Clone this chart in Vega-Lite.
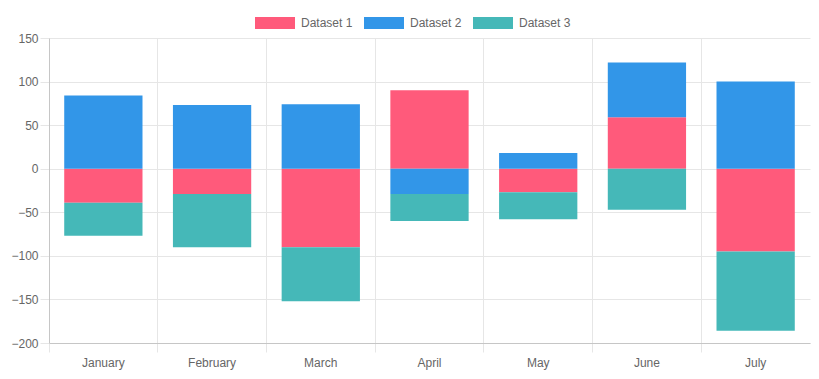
{
  "$schema": "https://vega.github.io/schema/vega-lite/v6.json",
  "width": 761,
  "height": 305,
  "autosize": {"type": "none"},
  "padding": {"left": 49, "top": 38, "right": 9, "bottom": 36},
  "background": "white",
  "config": {
    "view": {"stroke": null},
    "font": "Liberation Sans",
    "axis": {"labelFont": "Liberation Sans", "labelFontSize": 12, "labelColor": "#666666", "gridColor": "#e6e6e6", "tickColor": "#e6e6e6", "domainColor": "#c6c6c6", "titleFontSize": 12}
  },
  "data": {
    "values": [
      {"month": "January", "series": "Dataset 1", "value": -39},
      {"month": "January", "series": "Dataset 2", "value": 84},
      {"month": "January", "series": "Dataset 3", "value": -38},
      {"month": "February", "series": "Dataset 1", "value": -29},
      {"month": "February", "series": "Dataset 2", "value": 73},
      {"month": "February", "series": "Dataset 3", "value": -61},
      {"month": "March", "series": "Dataset 1", "value": -90},
      {"month": "March", "series": "Dataset 2", "value": 74},
      {"month": "March", "series": "Dataset 3", "value": -62},
      {"month": "April", "series": "Dataset 1", "value": 90},
      {"month": "April", "series": "Dataset 2", "value": -29},
      {"month": "April", "series": "Dataset 3", "value": -31},
      {"month": "May", "series": "Dataset 1", "value": -27},
      {"month": "May", "series": "Dataset 2", "value": 18},
      {"month": "May", "series": "Dataset 3", "value": -31},
      {"month": "June", "series": "Dataset 1", "value": 59},
      {"month": "June", "series": "Dataset 2", "value": 63},
      {"month": "June", "series": "Dataset 3", "value": -47},
      {"month": "July", "series": "Dataset 1", "value": -95},
      {"month": "July", "series": "Dataset 2", "value": 100},
      {"month": "July", "series": "Dataset 3", "value": -91}
    ]
  },
  "layer": [
    {
      "mark": {"type": "bar", "opacity": 0},
      "encoding": {
        "x": {
          "field": "month", "type": "nominal", "sort": null,
          "scale": {"paddingInner": 0, "paddingOuter": 0},
          "axis": {"orient": "bottom", "title": null, "bandPosition": 0, "grid": true, "ticks": true, "tickSize": 9, "labels": false, "domain": false}
        },
        "y": {"field": "value", "type": "quantitative", "aggregate": "sum"}
      }
    },
    {
      "mark": {"type": "bar", "width": {"band": 0.72}},
      "encoding": {
        "x": {
          "field": "month", "type": "nominal", "sort": null,
          "axis": {"orient": "bottom", "title": null, "grid": false, "ticks": false, "labelAngle": 0, "labelPadding": 14, "domain": true}
        },
        "y": {
          "field": "value", "type": "quantitative", "stack": "zero",
          "scale": {"domain": [-200, 150], "nice": false, "zero": false},
          "axis": {"title": null, "values": [-200, -150, -100, -50, 0, 50, 100, 150], "grid": true, "tickSize": 9, "labelPadding": 2, "domain": true}
        },
        "color": {
          "field": "series", "type": "nominal",
          "scale": {"domain": ["Dataset 1", "Dataset 2", "Dataset 3"], "range": ["#ff5a7b", "#3296e8", "#45b8b8"]},
          "legend": {
            "title": null, "orient": "none", "direction": "horizontal", "legendX": 206, "legendY": -35,
            "symbolType": "M-1,-0.3H1V0.3H-1Z", "symbolSize": 1600, "symbolStrokeWidth": 0, "symbolOpacity": 1,
            "labelFont": "Liberation Sans", "labelFontSize": 12, "labelColor": "#666666", "labelOffset": 6,
            "columnPadding": 11, "padding": 0
          }
        },
        "order": {"field": "series"}
      }
    }
  ],
  "resolve": {"axis": {"x": "independent"}}
}
